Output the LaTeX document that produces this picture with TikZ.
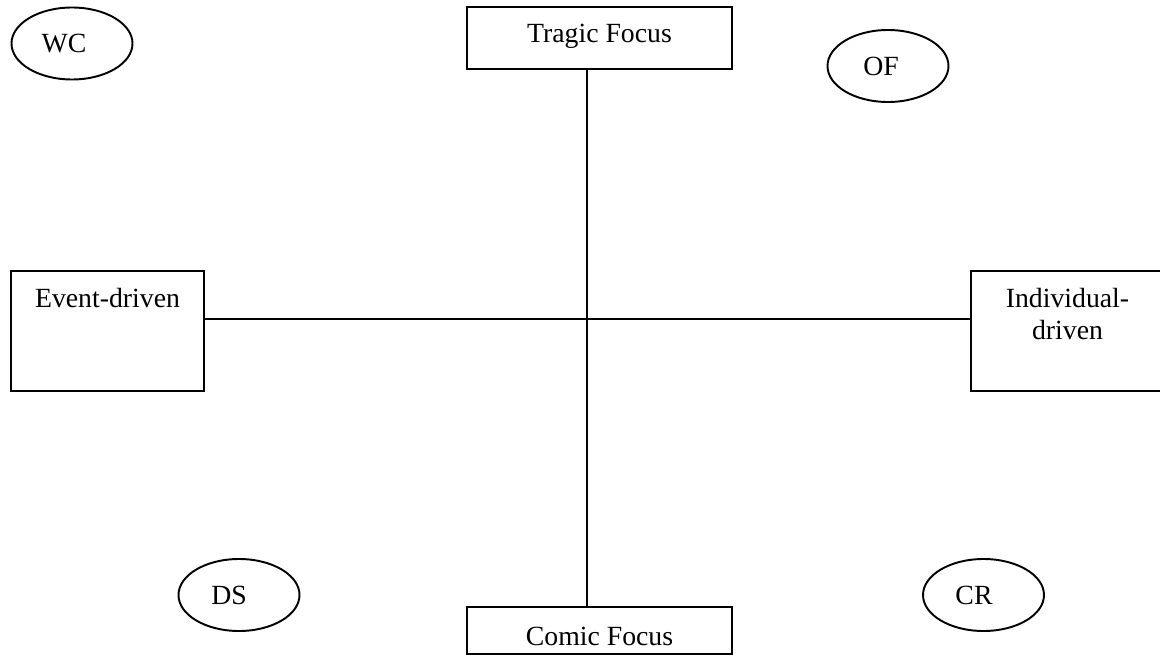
\documentclass[tikz,border=0pt]{standalone}
\usepackage{fontspec}
\setmainfont{Liberation Serif}
\usetikzlibrary{shapes.geometric}

\begin{document}
\begin{tikzpicture}[
    x=0.02cm, y=-0.02cm,
    axis/.style={black, line width=1.1pt},
    frame/.style={draw, line width=1.1pt, inner sep=0pt, align=center,
      font=\fontsize{15.8}{18.7}\selectfont},
    tag/.style={draw, ellipse, line width=1.1pt, inner sep=0pt,
      minimum width=121*0.02cm, minimum height=72*0.02cm,
      font=\fontsize{15.8}{18}\selectfont},
  ]
\useasboundingbox (0,0) rectangle (1160,655);

% Focus boxes on the vertical axis.
\node[frame, minimum width=265*0.02cm, text height=0.72cm, text depth=0.52cm]
  (tragic) at (599.5,38) {Tragic Focus};
\node[frame, minimum width=265*0.02cm, text height=0.76cm, text depth=0.18cm]
  (comic) at (599.5,630.5) {Comic Focus};

% Driver boxes on the horizontal axis; text sits near the top edge.
\node[frame, minimum width=193*0.02cm, text height=0.72cm, text depth=1.68cm]
  (event) at (107.5,331) {Event-driven};
\node[frame, minimum width=193*0.02cm, text height=1.38cm, text depth=1.02cm]
  (indiv) at (1067.5,331) {Individual-\\driven};

% Corner tags, text a little left of centre.
\node[tag] (wc) at (72,43.5) {WC\rule{0.32cm}{0pt}};
\node[tag] (of) at (888,66) {OF\rule{0.28cm}{0pt}};
\node[tag] (ds) at (239,595) {DS\rule{0.40cm}{0pt}};
\node[tag] (cr) at (983.5,595) {CR\rule{0.38cm}{0pt}};

% The two axes cross at the hub.
\coordinate (hub) at (587,319);
\draw[axis] (tragic.south -| hub) -- (comic.north -| hub);
\draw[axis] (event.east |- hub) -- (indiv.west |- hub);

\end{tikzpicture}
\end{document}
